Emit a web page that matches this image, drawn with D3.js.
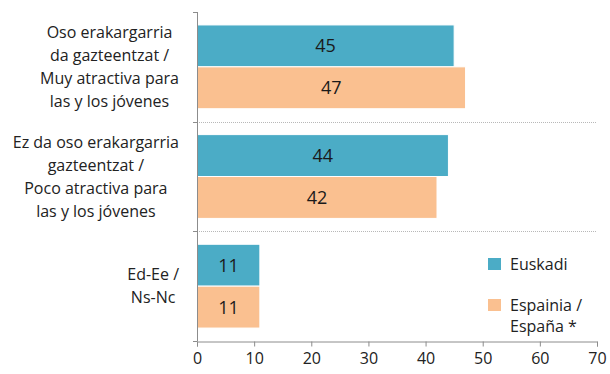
<!DOCTYPE html>
<html>
<head>
<meta charset="utf-8">
<script src="https://cdn.jsdelivr.net/npm/d3@7"></script>
<style>
  html, body { margin: 0; padding: 0; background: #fff; }
  svg { display: block; font-family: "Open Sans", "DejaVu Sans", sans-serif; }
</style>
</head>
<body>
<svg id="chart" width="610" height="374"></svg>
<script>
// Answer categories (each label split into its wrapped lines)
const categories = [
  ["Oso erakargarria", "da gazteentzat /", "Muy atractiva para", "las y los jóvenes"],
  ["Ez da oso erakargarria", "gazteentzat /", "Poco atractiva para", "las y los jóvenes"],
  ["Ed-Ee /", "Ns-Nc"]
];
const seriesNames = ["Euskadi", "Espainia / España *"];
const legendLines = [["Euskadi"], ["Espainia /", "España *"]];
const euskadiValues = [45, 44, 11];
const espanaValues = [47, 42, 11];
const xTicks = [0, 10, 20, 30, 40, 50, 60, 70];
const colors = ["#4BACC6", "#FAC090"];

const svg = d3.select("#chart");
const margin = { left: 197, right: 13, top: 12, bottom: 33 };
const W = 610, H = 374;
const plotBottom = H - margin.bottom;

const x = d3.scaleLinear().domain([0, 70]).range([margin.left, W - margin.right]);
const keys = categories.map((d, i) => i);
const y = d3.scaleBand().domain(keys).range([margin.top, plotBottom])
  .paddingInner(0.236).paddingOuter(0.118);
const y1 = d3.scaleBand().domain([0, 1]).range([0, y.bandwidth()]);

const series = [euskadiValues, espanaValues];
const step = y.step();

// Dotted separators between category groups
const gridG = svg.append("g");
for (let i = 1; i < categories.length; i++) {
  const yy = Math.round(margin.top + step * i) + 0.5;
  gridG.append("line")
    .attr("x1", margin.left).attr("x2", W - margin.right)
    .attr("y1", yy).attr("y2", yy)
    .attr("stroke", "#b8b8b8").attr("stroke-width", 1)
    .attr("stroke-dasharray", "1,1");
}

// Bars
const groups = svg.append("g").selectAll("g").data(keys).join("g")
  .attr("transform", d => `translate(0,${y(d)})`);
groups.selectAll("rect")
  .data(ci => series.map((s, si) => ({ si, v: s[ci] })))
  .join("rect")
  .attr("x", x(0))
  .attr("y", d => y1(d.si))
  .attr("width", d => x(d.v) - x(0))
  .attr("height", y1.bandwidth())
  .attr("fill", d => colors[d.si])
  .attr("stroke", "#fff").attr("stroke-width", 1);
groups.selectAll("text")
  .data(ci => series.map((s, si) => ({ si, v: s[ci] })))
  .join("text")
  .attr("x", d => (x(0) + x(d.v)) / 2)
  .attr("y", d => y1(d.si) + y1.bandwidth() / 2)
  .attr("dy", "0.36em")
  .attr("text-anchor", "middle")
  .attr("font-size", 18)
  .attr("fill", "#1a1a1a")
  .text(d => d.v);

// X axis
const xAxis = d3.axisBottom(x).tickValues(xTicks).tickSize(5).tickPadding(6);
const xg = svg.append("g").attr("transform", `translate(0,${plotBottom + 0.5})`).call(xAxis);
xg.select(".domain").attr("stroke", "#8c8c8c");
xg.selectAll(".tick line").attr("stroke", "#8c8c8c");
xg.selectAll(".tick text").attr("font-size", 16).attr("fill", "#222")
  .attr("font-family", "Open Sans, DejaVu Sans, sans-serif");

// Y axis line with boundary ticks
const yg = svg.append("g");
yg.append("line")
  .attr("x1", margin.left + 0.5).attr("x2", margin.left + 0.5)
  .attr("y1", margin.top).attr("y2", plotBottom)
  .attr("stroke", "#8c8c8c");
for (let i = 0; i <= categories.length; i++) {
  const yy = Math.round(margin.top + step * i) + 0.5;
  yg.append("line")
    .attr("x1", margin.left - 4).attr("x2", margin.left + 0.5)
    .attr("y1", yy).attr("y2", yy).attr("stroke", "#8c8c8c");
}

// Category labels: lines centred on each other, block right-aligned to the axis
const lineH = 23;
const labelRight = 179;
categories.forEach((lines, ci) => {
  const g = svg.append("g");
  const cy = y(ci) + y.bandwidth() / 2;
  const texts = lines.map((ln, li) => g.append("text")
    .attr("y", cy + (li - (lines.length - 1) / 2) * lineH)
    .attr("dy", "0.36em")
    .attr("font-size", 16)
    .attr("fill", "#222")
    .attr("text-anchor", "middle")
    .text(ln));
  const maxW = d3.max(texts, t => t.node().getComputedTextLength());
  texts.forEach(t => t.attr("x", labelRight - maxW / 2));
});

// Legend
const legY = [264, 305];
legendLines.forEach((lines, i) => {
  const g = svg.append("g");
  g.append("rect").attr("x", 488).attr("y", legY[i] - 6).attr("width", 13).attr("height", 12)
    .attr("fill", colors[i]);
  lines.forEach((ln, li) => {
    g.append("text").attr("x", 510).attr("y", legY[i] + li * 21)
      .attr("dy", "0.36em").attr("font-size", 16).attr("fill", "#222").text(ln);
  });
});
</script>
</body>
</html>
